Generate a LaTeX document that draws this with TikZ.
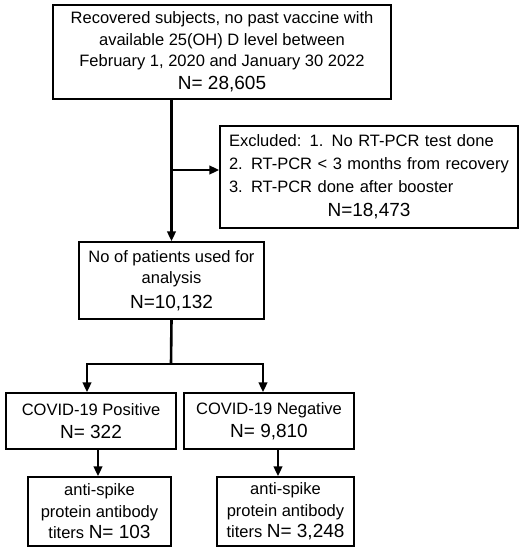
\documentclass[tikz,border=0pt]{standalone}
\usepackage{fontspec}
\setmainfont{Liberation Sans}
\usetikzlibrary{arrows.meta,calc}
\tikzset{
    flow box/.style={
        draw,
        line width=1.4pt,
        align=center,
        inner sep=0pt,
        font=\fontsize{16.5}{21.5}\selectfont
    },
    flow line/.style={line width=2.6pt},
    flow arrow/.style={
        flow line,
        -{Triangle[length=10pt,width=8.5pt]}
    }
}
\newcommand{\countline}[1]{{\fontsize{19}{23}\selectfont #1}}

\begin{document}
\begin{tikzpicture}[x=1pt,y=-1pt]
                \useasboundingbox (0,0) rectangle (527,550);
                \coordinate (branch) at (171,170);
                \coordinate (split) at (171,364);
                \coordinate (splitL) at (87,364);
                \coordinate (splitR) at (263,364);

                \node[flow box, minimum width=338pt, minimum height=94pt] (recovered) at (222,52)
                    {Recovered subjects, no past vaccine with\\available 25(OH) D level between\\February 1, 2020 and January 30 2022\\[1.5pt]\countline{N= 28,605}};
                \node[flow box, minimum width=298pt, minimum height=102pt, text width=280pt, align=left] (excluded) at (369,177)
                    {Excluded: 1. No RT-PCR test done\\[1.5pt]2. RT-PCR < 3 months from recovery\\[1pt]3. RT-PCR done after booster\\[3pt]\makebox[280pt]{\countline{N=18,473}}};
                \node[flow box, minimum width=185pt, minimum height=77pt] (analysis) at (171.5,280.5)
                    {No of patients used for\\analysis\\[3pt]\countline{N=10,132}};
                \node[flow box, minimum width=170pt, minimum height=56pt] (positive) at (91,421)
                    {COVID-19 Positive\\[2pt]\countline{N= 322}};
                \node[flow box, minimum width=170pt, minimum height=56pt] (negative) at (269,421)
                    {COVID-19 Negative\\[2pt]\countline{N= 9,810}};
                \node[flow box, minimum width=143pt, minimum height=69pt] (posTiters) at (99.5,511.5)
                    {anti-spike\\protein antibody\\titers \countline{N= 103}};
                \node[flow box, minimum width=137pt, minimum height=69pt] (negTiters) at (285.5,511.5)
                    {anti-spike\\protein antibody\\titers \countline{N= 3,248}};

                % main trunk and exclusion
                \draw[flow arrow] (recovered.south -| analysis.north) -- (analysis.north);
                \draw[flow arrow] (branch) -- (branch -| excluded.west);

                % split into the two groups
                \draw[flow line] (analysis.south) -- (split);
                \draw[flow line, line cap=rect] (splitL) -- (splitR);
                \draw[flow arrow] (splitL) -- (splitL |- positive.north);
                \draw[flow arrow] (splitR) -- (splitR |- negative.north);

                \draw[flow arrow] ([xshift=7pt]positive.south) -- ([xshift=7pt]positive.south |- posTiters.north);
                \draw[flow arrow] ([xshift=9pt]negative.south) -- ([xshift=9pt]negative.south |- negTiters.north);
\end{tikzpicture}
\end{document}
